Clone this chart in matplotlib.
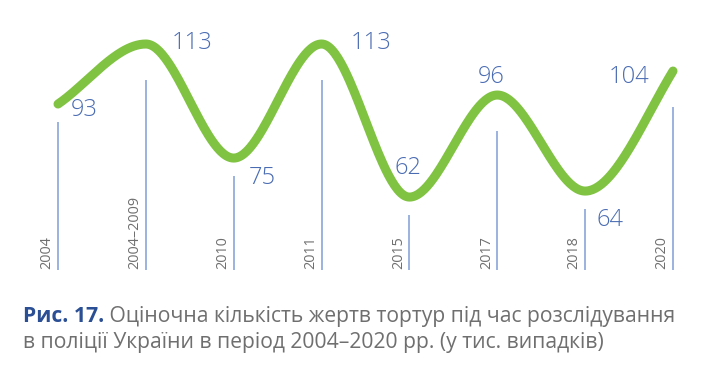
import numpy as np
import matplotlib
matplotlib.use('Agg')
import matplotlib.pyplot as plt

plt.rcParams['font.family'] = ['Open Sans', 'DejaVu Sans']

years = ['2004', '2004–2009', '2010', '2011', '2015', '2017', '2018', '2020']
values = [93, 113, 75, 113, 62, 96, 64, 104]

GREEN = '#80c342'
BLUE = '#4a6cb3'
LINE = '#93aedb'
GRAY = '#6f6f6f'

# label offsets in pixels (dx, dy) relative to each data point
label_off = [(26, -6), (46, 1), (29, -20), (49, 1), (-1, 29), (-6, 18), (25, -29), (-44, -6)]


def smooth_wave(vals, n=60):
    """Hermite curve: flat at every inner extremum, sloped at the ends."""
    v = np.array(vals, float)
    m = np.zeros_like(v)
    m[0] = (v[1] - v[0])
    m[-1] = (v[-1] - v[-2]) * 1.2
    xs, ys = [], []
    for i in range(len(v) - 1):
        t = np.linspace(0, 1, n)
        h00 = 2*t**3 - 3*t**2 + 1
        h10 = t**3 - 2*t**2 + t
        h01 = -2*t**3 + 3*t**2
        h11 = t**3 - t**2
        xs.append(i + t)
        ys.append(h00*v[i] + h10*m[i] + h01*v[i+1] + h11*m[i+1])
    return np.concatenate(xs), np.concatenate(ys)


fig = plt.figure(figsize=(7.11, 3.71), dpi=100)
W, H = 711, 371
x0, x1 = 58, 673
unit = (x1 - x0) / 7
ax = fig.add_axes([(x0 - 0.4*unit)/W, (H - 270)/H, 7.8*unit/W, 262/H])
ax.set_xlim(-0.4, 7.4)
ax.set_ylim(37.7, 125)
ax.axis('off')

base = 37.7
for i, v in enumerate(values):
    prev_v = values[i-1] if i > 0 else values[i+1]
    peak = v > prev_v
    top = v - (12 if peak else 6)
    ax.plot([i, i], [base, top], color=LINE, lw=1.3, solid_capstyle='butt', zorder=1)
    ax.annotate(years[i], xy=(i, base), xytext=(-11, 1), textcoords='offset pixels',
                rotation=90, ha='center', va='bottom', fontsize=10.4, color=GRAY)
    dx, dy = label_off[i]
    ax.annotate(str(v), xy=(i, v), xytext=(dx, dy), textcoords='offset pixels',
                ha='center', va='center', fontsize=17, color=BLUE, fontweight='light')

cx, cy = smooth_wave(values)
ax.plot(cx, cy, color=GREEN, lw=6.5, solid_capstyle='round', zorder=2)

fs = 15.2
t1 = fig.text(23/W, 1 - 322/H, 'Рис. 17.', fontsize=fs, fontweight='bold',
              color='#2b4f94', va='baseline')
ax.annotate(' Оціночна кількість жертв тортур під час розслідування',
            xy=(1, 0), xycoords=t1, va='bottom', ha='left', fontsize=fs, color=GRAY,
            annotation_clip=False)
fig.text(23/W, 1 - 348/H, 'в поліції України в період 2004–2020 рр. (у тис. випадків)',
         fontsize=fs, color=GRAY, va='baseline')

fig.savefig('out.png', dpi=100)
